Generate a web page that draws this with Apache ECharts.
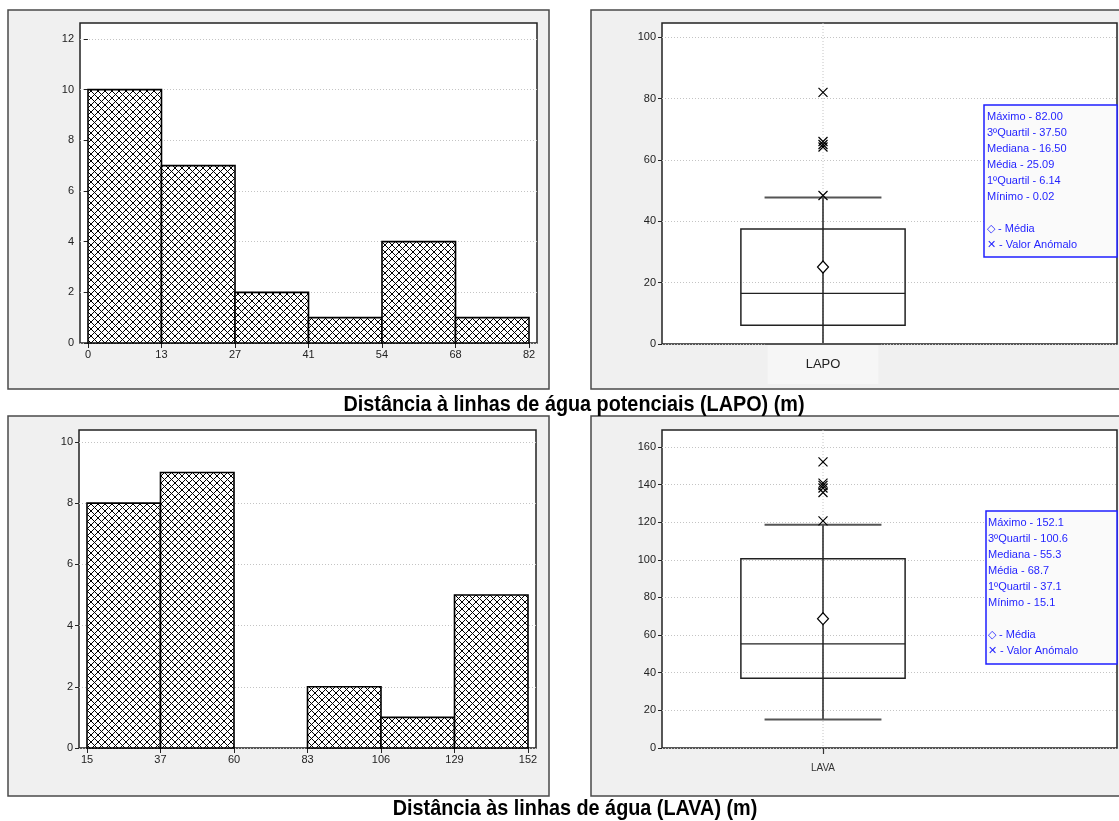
<!DOCTYPE html>
<html>
<head>
<meta charset="utf-8">
<script src="https://cdn.jsdelivr.net/npm/echarts@6/dist/echarts.min.js"></script>
<style>
  html, body { margin: 0; padding: 0; background: #ffffff; }
  #chart { width: 1119px; height: 821px; }
</style>
</head>
<body>
<div id="chart"></div>
<script>
// ---- Histogram data: bin edges, counts and axis labels ----
const lapoEdges = [0.02, 13.68, 27.35, 41.01, 54.67, 68.34, 82.00];
const lapoCounts = [10, 7, 2, 1, 4, 1];
const lapoTickLabels = ['0', '13', '27', '41', '54', '68', '82'];
const lapoCountTicks = [0, 2, 4, 6, 8, 10, 12];

const lavaEdges = [15.1, 37.93, 60.77, 83.6, 106.43, 129.27, 152.1];
const lavaCounts = [8, 9, 0, 2, 1, 5];
const lavaTickLabels = ['15', '37', '60', '83', '106', '129', '152'];
const lavaCountTicks = [0, 2, 4, 6, 8, 10];

// ---- Box plot data ----
const statNames = ['Máximo', '3ºQuartil', 'Mediana', 'Média', '1ºQuartil', 'Mínimo'];
const lapoStats = [82.00, 37.50, 16.50, 25.09, 6.14, 0.02];
const lapoWhiskers = [0.02, 47.7];
const lapoOutliers = [48.4, 64.2, 65.0, 66.0, 82.0];
const lapoValueTicks = [0, 20, 40, 60, 80, 100];

const lavaStats = [152.1, 100.6, 55.3, 68.7, 37.1, 15.1];
const lavaWhiskers = [15.1, 118.6];
const lavaOutliers = [120.7, 135.8, 138.2, 139.6, 140.8, 152.1];
const lavaValueTicks = [0, 20, 40, 60, 80, 100, 120, 140, 160];

const lapoCategory = ['LAPO'];
const lavaCategory = ['LAVA'];

const lapoTitle = 'Distância à linhas de água potenciais (LAPO) (m)';
const lavaTitle = 'Distância às linhas de água (LAVA) (m)';

// ---- styling helpers ----
const AXIS_FONT = '"Liberation Sans", Arial, sans-serif';
const GRID_LINE = { show: true, lineStyle: { color: '#c4c4c4', type: [1, 2], width: 1 } };

function makeHatch() {
  const s = 7;
  const c = document.createElement('canvas');
  c.width = s; c.height = s;
  const g = c.getContext('2d');
  g.fillStyle = '#ffffff';
  g.fillRect(0, 0, s, s);
  g.strokeStyle = '#000000';
  g.lineWidth = 1;
  g.beginPath();
  g.moveTo(-1, -1); g.lineTo(s + 1, s + 1);
  g.moveTo(s + 1, -1); g.lineTo(-1, s + 1);
  g.stroke();
  return c;
}
const hatch = { image: makeHatch(), repeat: 'repeat' };

function binData(edges, counts) {
  return counts.map((n, i) => [edges[i], edges[i + 1], n]);
}

function histItem(params, api) {
  const n = api.value(2);
  if (!n) return null;
  const p0 = api.coord([api.value(0), n]);
  const p1 = api.coord([api.value(1), 0]);
  return {
    type: 'rect',
    shape: { x: p0[0], y: p0[1], width: p1[0] - p0[0], height: p1[1] - p0[1] },
    style: { fill: hatch, stroke: '#000', lineWidth: 1.6 }
  };
}

function boxItem(params, api) {
  const cat = api.value(0);
  const band = api.size([1, 0])[0];
  const cx = api.coord([cat, 0])[0];
  const y = v => api.coord([cat, v])[1];
  const cs = params.coordSys;
  const bw = band * 0.51, cw = band * 0.363;
  const lo = api.value(1), q1 = api.value(2), med = api.value(3), q3 = api.value(4), hi = api.value(5);
  return {
    type: 'group',
    children: [
      { type: 'line', shape: { x1: cx, y1: cs.y, x2: cx, y2: cs.y + cs.height },
        style: { stroke: '#c4c4c4', lineWidth: 1, lineDash: [1, 2] } },
      { type: 'rect', shape: { x: cx - bw / 2, y: y(q3), width: bw, height: y(q1) - y(q3) },
        style: { fill: null, stroke: '#222', lineWidth: 1.5 } },
      { type: 'line', shape: { x1: cx - bw / 2, y1: y(med), x2: cx + bw / 2, y2: y(med) },
        style: { stroke: '#222', lineWidth: 1.3 } },
      { type: 'line', shape: { x1: cx, y1: y(hi), x2: cx, y2: y(lo) },
        style: { stroke: '#222', lineWidth: 1.5 } },
      { type: 'line', shape: { x1: cx - cw / 2, y1: y(hi), x2: cx + cw / 2, y2: y(hi) },
        style: { stroke: '#555', lineWidth: 2 } },
      { type: 'line', shape: { x1: cx - cw / 2, y1: y(lo), x2: cx + cw / 2, y2: y(lo) },
        style: { stroke: '#555', lineWidth: 2 } }
    ]
  };
}

function boxRow(stats, whiskers) {
  // [category, lower whisker, Q1, median, Q3, upper whisker]
  return [[0, whiskers[0], stats[4], stats[2], stats[1], whiskers[1]]];
}

function legendText(stats, digits) {
  return statNames.map((n, i) => n + ' - ' + stats[i].toFixed(digits)).join('\n') +
    '\n\n◇ - Média\n✕ - Valor Anómalo';
}

// ---- panel layout ----
const L = {
  tl: { left: 80, top: 23, width: 457, height: 320 },
  bl: { left: 79, top: 430, width: 457, height: 318 },
  tr: { left: 662, top: 23, width: 455, height: 321 },
  br: { left: 662, top: 430, width: 455, height: 318 }
};
const HIST_PAD_PX = 8;

function histXAxis(gridIndex, edges, labels, layout) {
  const span = edges[edges.length - 1] - edges[0];
  const pad = span * HIST_PAD_PX / (layout.width - 2 * HIST_PAD_PX);
  return {
    type: 'value', gridIndex,
    min: edges[0] - pad, max: edges[edges.length - 1] + pad,
    axisLine: { show: false },
    splitLine: { show: false },
    axisTick: { show: true, customValues: edges, length: 5, lineStyle: { color: '#222', width: 1 } },
    axisLabel: {
      customValues: edges, margin: 6, color: '#222', fontSize: 11, fontFamily: AXIS_FONT,
      formatter: v => {
        let best = 0;
        edges.forEach((e, i) => { if (Math.abs(e - v) < Math.abs(edges[best] - v)) best = i; });
        return labels[best];
      }
    }
  };
}

function countYAxis(gridIndex, ticks, max) {
  return {
    type: 'value', gridIndex, min: 0, max,
    axisLine: { show: false },
    axisTick: { show: true, customValues: ticks, length: 4, lineStyle: { color: '#222', width: 1 } },
    axisLabel: { customValues: ticks, margin: 6, color: '#222', fontSize: 11, fontFamily: AXIS_FONT },
    splitLine: GRID_LINE
  };
}

function hiddenAxis(gridIndex, type, extra) {
  return Object.assign({ type, gridIndex, show: false, splitLine: { show: false } }, extra || {});
}

const plotGrid = l => Object.assign({ show: true, backgroundColor: '#ffffff', borderColor: '#222', borderWidth: 1.5 }, l);
const innerGrid = l => ({ show: false, left: l.left, top: l.top, width: 322, height: l.height });

const frames = [
  { x: 8, y: 10, w: 541, h: 379 },
  { x: 591, y: 10, w: 540, h: 379 },
  { x: 8, y: 416, w: 541, h: 380 },
  { x: 591, y: 416, w: 540, h: 380 }
];

function titleText(text, x, y) {
  return {
    type: 'text', z: 101, x, y, scaleX: 0.9,
    style: { text, fill: '#000', font: 'bold 22px "Liberation Sans", Arial, sans-serif', align: 'center', verticalAlign: 'middle' }
  };
}

const option = {
  animation: false,
  backgroundColor: '#ffffff',
  grid: [
    plotGrid(L.tl),            // 0 LAPO histogram
    plotGrid(L.bl),            // 1 LAVA histogram
    plotGrid(L.tr),            // 2 LAPO box frame
    innerGrid(L.tr),           // 3 LAPO box category band
    plotGrid(L.br),            // 4 LAVA box frame
    innerGrid(L.br)            // 5 LAVA box category band
  ],
  xAxis: [
    histXAxis(0, lapoEdges, lapoTickLabels, L.tl),
    histXAxis(1, lavaEdges, lavaTickLabels, L.bl),
    hiddenAxis(2, 'value', { min: 0, max: 1 }),
    {
      type: 'category', gridIndex: 3, data: lapoCategory,
      axisLine: { show: false }, axisTick: { show: false },
      axisLabel: {
        margin: 1, color: '#222', fontSize: 13, fontFamily: AXIS_FONT,
        backgroundColor: '#f6f6f6', padding: [13, 38, 13, 38]
      }
    },
    hiddenAxis(4, 'value', { min: 0, max: 1 }),
    {
      type: 'category', gridIndex: 5, data: lavaCategory,
      axisLine: { show: false },
      axisTick: { show: true, alignWithLabel: true, length: 6, lineStyle: { color: '#333', width: 1.2 } },
      axisLabel: { margin: 15, color: '#333', fontSize: 10, fontFamily: AXIS_FONT }
    }
  ],
  yAxis: [
    countYAxis(0, lapoCountTicks, 12.63),
    countYAxis(1, lavaCountTicks, 10.39),
    countYAxis(2, lapoValueTicks, 104.6),
    hiddenAxis(3, 'value', { min: 0, max: 104.6 }),
    countYAxis(4, lavaValueTicks, 169),
    hiddenAxis(5, 'value', { min: 0, max: 169 })
  ],
  series: [
    { type: 'custom', xAxisIndex: 0, yAxisIndex: 0, renderItem: histItem,
      encode: { x: [0, 1], y: 2 }, data: binData(lapoEdges, lapoCounts) },
    { type: 'custom', xAxisIndex: 1, yAxisIndex: 1, renderItem: histItem,
      encode: { x: [0, 1], y: 2 }, data: binData(lavaEdges, lavaCounts) },

    { type: 'custom', xAxisIndex: 3, yAxisIndex: 3, renderItem: boxItem,
      encode: { x: 0, y: [1, 2, 3, 4, 5] }, data: boxRow(lapoStats, lapoWhiskers) },
    { type: 'scatter', xAxisIndex: 3, yAxisIndex: 3, symbol: 'diamond', symbolSize: [11, 12],
      itemStyle: { color: '#fff', borderColor: '#000', borderWidth: 1.2, opacity: 1 },
      data: [[0, lapoStats[3]]], z: 5 },
    { type: 'scatter', xAxisIndex: 3, yAxisIndex: 3, symbol: 'path://M0,0L10,10M10,0L0,10', symbolSize: 9,
      itemStyle: { color: 'none', borderColor: '#000', borderWidth: 1.2, opacity: 1 },
      data: lapoOutliers.map(v => [0, v]), z: 6 },

    { type: 'custom', xAxisIndex: 5, yAxisIndex: 5, renderItem: boxItem,
      encode: { x: 0, y: [1, 2, 3, 4, 5] }, data: boxRow(lavaStats, lavaWhiskers) },
    { type: 'scatter', xAxisIndex: 5, yAxisIndex: 5, symbol: 'diamond', symbolSize: [11, 12],
      itemStyle: { color: '#fff', borderColor: '#000', borderWidth: 1.2, opacity: 1 },
      data: [[0, lavaStats[3]]], z: 5 },
    { type: 'scatter', xAxisIndex: 5, yAxisIndex: 5, symbol: 'path://M0,0L10,10M10,0L0,10', symbolSize: 9,
      itemStyle: { color: 'none', borderColor: '#000', borderWidth: 1.2, opacity: 1 },
      data: lavaOutliers.map(v => [0, v]), z: 6 }
  ],
  graphic: [
    // panel frames
    ...frames.map(f => ({
      type: 'rect', z: -100, silent: true,
      shape: { x: f.x, y: f.y, width: f.w, height: f.h },
      style: { fill: '#f0f0f0', stroke: '#4a4a4a', lineWidth: 1.5 }
    })),
    // statistics boxes
    { type: 'rect', z: 100, shape: { x: 984, y: 105, width: 133, height: 152 },
      style: { fill: '#fafafa', stroke: '#1f1fff', lineWidth: 1.5 } },
    { type: 'text', z: 101, x: 987, y: 109,
      style: { text: legendText(lapoStats, 2), fill: '#1f1fff', font: '11px ' + AXIS_FONT, lineHeight: 16 } },
    { type: 'rect', z: 100, shape: { x: 986, y: 511, width: 131, height: 153 },
      style: { fill: '#fafafa', stroke: '#1f1fff', lineWidth: 1.5 } },
    { type: 'text', z: 101, x: 988, y: 515,
      style: { text: legendText(lavaStats, 1), fill: '#1f1fff', font: '11px ' + AXIS_FONT, lineHeight: 16 } },
    // titles
    titleText(lapoTitle, 574, 405),
    titleText(lavaTitle, 575, 809)
  ]
};

echarts.init(document.getElementById('chart'), null, { renderer: 'canvas' }).setOption(option);
</script>
</body>
</html>
